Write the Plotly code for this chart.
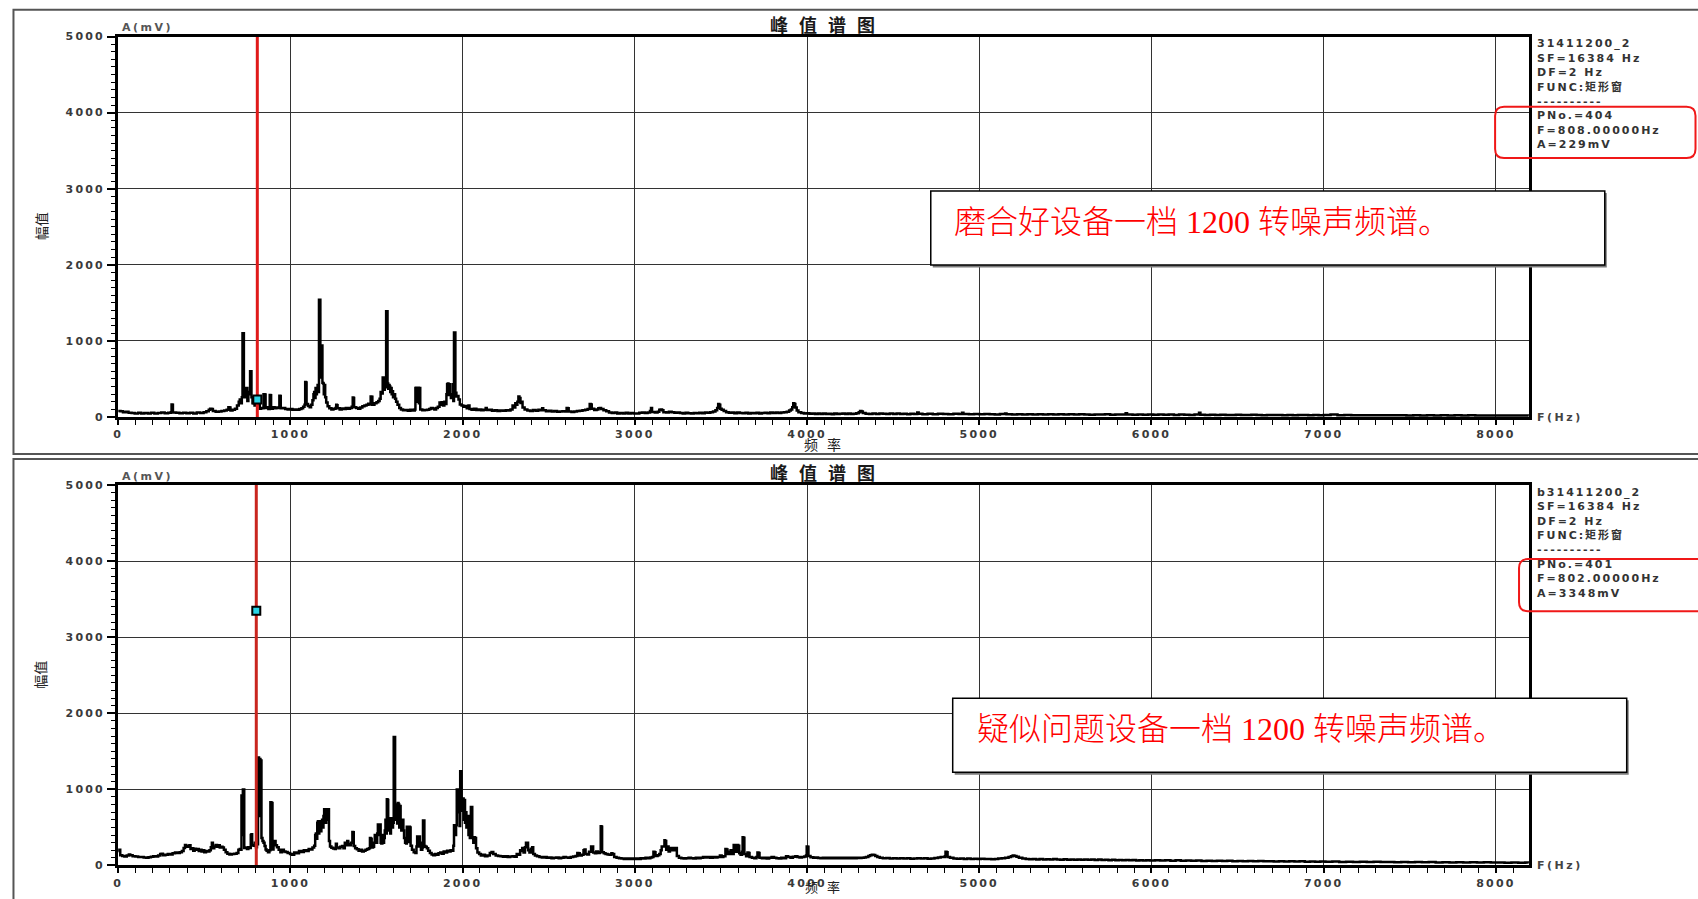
import plotly.graph_objects as go

# ---------------- data ----------------
x_ticks = [0, 1000, 2000, 3000, 4000, 5000, 6000, 7000, 8000]
y_ticks = [0, 1000, 2000, 3000, 4000, 5000]

# good device spectrum: (frequency Hz, amplitude mV)
good_spectrum = [
(0,80),(14,75),(28,62),(44,70),(60,55),(78,52),(96,48),(116,55),(134,45),(152,52),(172,46),(190,55),(210,48),(230,52),(250,58),(270,50),(290,55),(306,62),(310,165),(314,160),(318,60),(336,55),(356,50),(376,56),(396,50),(416,55),(436,48),(456,58),(476,54),(496,62),(512,75),(526,95),(534,110),(542,105),(550,80),(566,70),(584,72),(600,78),(616,85),(630,95),(640,130),(646,125),(652,85),(664,95),(678,110),(690,150),(700,200),(706,230),(712,180),(718,260),(722,1100),(726,1100),(730,320),(736,260),(742,380),(746,380),(750,210),(756,300),(762,330),(766,600),(770,600),(774,260),(780,180),(786,210),(792,150),(798,170),(804,200),(808,229),(814,165),(822,110),(830,120),(838,115),(844,300),(850,295),(856,120),(864,130),(872,105),(880,290),(884,285),(888,110),(898,130),(908,115),(918,125),(928,120),(936,280),(940,275),(944,115),(956,120),(970,105),(984,98),(998,104),(1012,95),(1026,100),(1040,96),(1052,105),(1064,115),(1074,135),(1082,160),(1086,460),(1090,455),(1094,170),(1102,145),(1112,130),(1120,160),(1128,220),(1134,300),(1138,330),(1142,250),(1146,380),(1150,300),(1154,360),(1158,420),(1162,330),(1166,1540),(1170,1540),(1174,520),(1178,940),(1182,940),(1186,450),(1190,440),(1194,300),(1198,420),(1202,260),(1208,190),(1216,140),(1226,115),(1238,100),(1250,110),(1262,118),(1266,160),(1270,155),(1274,115),(1286,100),(1298,112),(1310,105),(1322,118),(1334,110),(1346,120),(1356,135),(1362,255),(1366,250),(1370,130),(1382,120),(1394,110),(1406,125),(1418,140),(1430,150),(1442,160),(1452,175),(1458,165),(1466,270),(1470,265),(1476,160),(1488,180),(1500,195),(1510,210),(1518,240),(1524,330),(1530,310),(1536,520),(1540,520),(1544,360),(1548,480),(1552,390),(1556,1390),(1560,1390),(1564,440),(1568,370),(1572,420),(1576,400),(1580,330),(1584,380),(1588,300),(1592,340),(1596,260),(1602,300),(1608,240),(1614,200),(1622,160),(1632,120),(1642,100),(1654,88),(1668,92),(1682,82),(1696,95),(1710,86),(1722,100),(1726,380),(1730,385),(1734,200),(1738,375),(1742,385),(1746,180),(1750,380),(1754,100),(1766,88),(1780,92),(1794,96),(1806,104),(1816,120),(1826,112),(1836,100),(1846,118),(1856,135),(1866,190),(1872,160),(1878,195),(1886,150),(1894,200),(1900,170),(1906,300),(1910,430),(1914,440),(1918,290),(1922,430),(1926,300),(1932,250),(1938,300),(1942,430),(1946,210),(1950,1110),(1954,1110),(1958,320),(1964,270),(1970,275),(1976,230),(1984,165),(1994,150),(2004,135),(2014,145),(2024,115),(2034,150),(2040,105),(2052,95),(2066,110),(2080,92),(2094,100),(2108,88),(2122,96),(2134,120),(2140,92),(2154,95),(2170,82),(2186,88),(2202,80),(2218,86),(2234,82),(2250,90),(2264,85),(2278,100),(2290,150),(2298,125),(2306,180),(2312,160),(2318,200),(2324,270),(2330,250),(2336,185),(2342,200),(2348,125),(2360,100),(2376,86),(2392,80),(2408,92),(2424,84),(2440,95),(2456,88),(2462,115),(2468,88),(2484,76),(2500,82),(2516,72),(2532,78),(2548,68),(2564,72),(2580,76),(2596,74),(2604,120),(2610,115),(2616,72),(2632,66),(2648,72),(2664,78),(2680,82),(2696,90),(2712,95),(2726,105),(2738,170),(2744,165),(2750,110),(2764,92),(2778,100),(2788,115),(2796,118),(2804,105),(2818,90),(2834,75),(2850,60),(2866,52),(2882,58),(2898,46),(2914,52),(2930,48),(2946,56),(2962,46),(2978,52),(2994,48),(3010,46),(3026,56),(3042,60),(3058,52),(3074,60),(3088,80),(3094,120),(3100,65),(3116,58),(3132,70),(3142,95),(3150,100),(3158,90),(3166,62),(3182,58),(3198,70),(3214,62),(3230,56),(3246,60),(3262,52),(3278,48),(3294,56),(3310,50),(3326,46),(3342,54),(3358,50),(3374,56),(3390,50),(3406,60),(3422,55),(3438,62),(3454,72),(3468,90),(3478,120),(3484,170),(3490,160),(3496,110),(3504,95),(3516,78),(3530,62),(3546,56),(3562,60),(3578,50),(3594,58),(3610,54),(3626,50),(3642,56),(3658,48),(3674,54),(3690,50),(3706,56),(3722,46),(3738,52),(3754,55),(3770,50),(3786,58),(3802,54),(3818,60),(3834,52),(3850,58),(3866,64),(3882,70),(3896,85),(3906,100),(3914,130),(3920,180),(3926,170),(3932,125),(3940,85),(3950,62),(3966,52),(3982,46),(3998,50),(4014,42),(4030,46),(4046,40),(4062,45),(4078,40),(4094,48),(4110,40),(4126,44),(4142,38),(4158,45),(4174,40),(4190,44),(4206,48),(4222,40),(4238,45),(4254,40),(4270,44),(4286,50),(4300,62),(4308,78),(4316,72),(4324,52),(4340,44),(4360,40),(4380,46),(4400,40),(4420,48),(4440,42),(4460,40),(4480,46),(4500,40),(4520,48),(4540,40),(4560,44),(4580,38),(4600,42),(4620,40),(4640,58),(4648,42),(4670,38),(4700,42),(4730,38),(4760,44),(4790,40),(4820,38),(4850,44),(4880,40),(4900,55),(4908,40),(4940,36),(4970,40),(5000,36),(5030,40),(5060,38),(5090,34),(5120,40),(5150,48),(5158,36),(5190,34),(5220,38),(5250,34),(5280,36),(5310,32),(5340,36),(5370,34),(5400,38),(5430,32),(5460,36),(5490,34),(5520,38),(5550,32),(5580,36),(5610,34),(5640,30),(5670,34),(5700,32),(5730,36),(5760,30),(5790,34),(5820,32),(5850,50),(5858,32),(5890,30),(5920,34),(5950,30),(5980,32),(6010,30),(6040,34),(6070,30),(6100,32),(6130,28),(6160,32),(6190,30),(6220,28),(6250,32),(6276,55),(6284,30),(6310,28),(6340,30),(6370,27),(6400,30),(6430,28),(6460,26),(6490,30),(6520,28),(6550,26),(6580,29),(6610,27),(6640,25),(6670,28),(6700,26),(6730,28),(6760,25),(6790,27),(6820,25),(6850,28),(6880,26),(6910,24),(6940,27),(6970,25),(7000,26),(7040,32),(7080,24),(7120,26),(7160,23),(7200,25),(7240,23),(7280,25),(7320,22),(7360,24),(7400,22),(7440,24),(7480,21),(7520,23),(7560,21),(7600,23),(7640,21),(7680,22),(7720,20),(7760,22),(7800,20),(7840,22),(7880,20),(7920,21),(7960,19),(8000,21),(8040,19),(8080,20),(8120,19),(8160,20),(8190,19)]

# suspected problem device spectrum: (frequency Hz, amplitude mV)
bad_spectrum = [
(0,190),(6,205),(12,135),(24,125),(36,118),(50,130),(62,145),(70,135),(84,120),(100,118),(116,112),(132,110),(148,105),(162,100),(176,108),(190,115),(204,120),(218,118),(232,130),(244,150),(252,155),(260,135),(274,140),(288,150),(302,145),(316,160),(330,170),(344,165),(358,175),(370,190),(380,230),(388,270),(394,260),(400,245),(408,250),(414,265),(420,215),(428,225),(436,195),(444,220),(452,205),(460,215),(468,190),(476,205),(484,185),(492,200),(500,175),(510,190),(520,182),(530,200),(538,240),(544,300),(550,225),(558,250),(566,270),(574,245),(582,265),(590,235),(598,245),(606,235),(614,205),(624,175),(634,155),(646,145),(660,150),(674,155),(688,165),(698,205),(706,215),(712,205),(716,920),(720,920),(722,400),(724,1000),(728,1000),(732,230),(740,235),(748,215),(756,240),(764,230),(770,400),(774,410),(778,270),(786,260),(794,300),(800,240),(806,280),(812,1420),(816,1420),(818,700),(820,1400),(824,1400),(826,650),(828,1380),(832,360),(838,320),(844,300),(850,255),(856,210),(862,195),(870,175),(878,200),(884,830),(888,830),(890,400),(892,820),(896,210),(902,300),(908,320),(914,265),(922,240),(932,205),(942,175),(952,205),(962,185),(972,178),(984,165),(998,150),(1010,140),(1022,170),(1036,160),(1050,190),(1064,178),(1078,200),(1092,190),(1106,215),(1118,210),(1128,235),(1138,260),(1144,400),(1148,420),(1152,350),(1156,560),(1160,580),(1164,420),(1168,560),(1172,580),(1176,450),(1180,520),(1184,600),(1188,500),(1192,650),(1196,740),(1200,740),(1204,560),(1208,740),(1212,740),(1216,600),(1220,740),(1224,320),(1230,250),(1238,232),(1248,222),(1258,215),(1264,285),(1270,235),(1280,225),(1290,245),(1300,255),(1308,225),(1316,300),(1322,265),(1330,320),(1336,280),(1344,265),(1352,300),(1360,440),(1364,435),(1368,255),(1376,225),(1386,212),(1396,195),(1406,205),(1416,185),(1426,195),(1436,205),(1446,215),(1456,225),(1462,360),(1466,350),(1472,235),(1480,245),(1486,300),(1490,400),(1494,385),(1498,300),(1504,420),(1508,540),(1512,520),(1516,400),(1520,540),(1524,300),(1528,290),(1534,400),(1538,300),(1544,360),(1548,460),(1552,600),(1556,420),(1560,870),(1564,860),(1568,460),(1572,560),(1576,620),(1580,420),(1584,620),(1588,600),(1592,500),(1596,560),(1600,1690),(1604,1690),(1608,600),(1612,800),(1616,780),(1620,550),(1624,820),(1628,800),(1632,500),(1636,780),(1640,600),(1644,460),(1648,560),(1652,600),(1656,460),(1660,360),(1666,300),(1672,290),(1676,510),(1680,510),(1684,310),(1690,510),(1694,500),(1698,260),(1706,205),(1716,175),(1726,165),(1732,250),(1736,380),(1740,370),(1744,250),(1748,380),(1752,300),(1758,205),(1766,235),(1770,590),(1774,590),(1778,255),(1784,245),(1792,225),(1800,195),(1810,165),(1820,145),(1830,135),(1840,152),(1850,142),(1860,162),(1870,172),(1880,155),(1890,182),(1900,172),(1910,192),(1920,182),(1930,200),(1940,192),(1946,260),(1950,530),(1954,520),(1958,400),(1962,530),(1966,1000),(1970,1000),(1974,700),(1978,960),(1982,520),(1986,1240),(1990,1240),(1994,720),(1998,880),(2002,880),(2006,600),(2010,860),(2014,560),(2018,700),(2022,500),(2026,650),(2030,640),(2034,400),(2038,650),(2042,360),(2048,770),(2052,770),(2056,360),(2062,300),(2068,370),(2072,360),(2078,225),(2086,172),(2096,152),(2106,132),(2116,142),(2130,122),(2144,132),(2158,165),(2168,178),(2178,152),(2192,132),(2206,126),(2220,120),(2234,116),(2248,122),(2262,112),(2276,117),(2290,122),(2302,116),(2314,150),(2324,140),(2334,200),(2340,190),(2346,230),(2354,170),(2362,240),(2368,300),(2374,300),(2380,200),(2388,170),(2396,220),(2404,240),(2410,150),(2420,130),(2432,120),(2446,110),(2460,105),(2474,112),(2488,100),(2502,106),(2516,96),(2530,102),(2544,106),(2558,96),(2572,102),(2586,110),(2600,105),(2614,100),(2628,110),(2642,118),(2656,125),(2666,165),(2672,160),(2680,132),(2692,140),(2702,200),(2708,210),(2714,150),(2724,145),(2734,180),(2746,250),(2752,250),(2758,172),(2768,160),(2776,182),(2786,165),(2796,175),(2802,515),(2806,510),(2810,175),(2820,160),(2830,150),(2842,145),(2854,142),(2864,160),(2870,150),(2880,112),(2894,100),(2908,96),(2922,90),(2936,86),(2950,92),(2964,86),(2978,90),(2992,86),(3006,92),(3020,86),(3034,96),(3048,90),(3062,100),(3076,96),(3090,105),(3100,112),(3108,180),(3114,175),(3120,125),(3132,135),(3142,150),(3150,200),(3156,250),(3172,330),(3176,320),(3182,205),(3190,250),(3196,185),(3204,230),(3212,200),(3220,230),(3228,200),(3236,230),(3244,125),(3256,102),(3270,96),(3284,92),(3298,96),(3312,100),(3326,96),(3340,92),(3354,100),(3368,96),(3382,100),(3396,110),(3410,105),(3424,112),(3438,102),(3452,110),(3466,106),(3480,112),(3494,130),(3504,112),(3514,120),(3526,215),(3532,210),(3538,150),(3548,180),(3556,200),(3562,150),(3574,270),(3580,265),(3586,180),(3594,270),(3600,260),(3606,160),(3614,140),(3622,180),(3626,370),(3630,365),(3636,150),(3646,120),(3654,170),(3660,165),(3666,112),(3680,100),(3694,96),(3706,110),(3712,170),(3718,165),(3724,100),(3738,96),(3752,100),(3766,92),(3780,100),(3794,110),(3808,102),(3822,96),(3836,92),(3850,100),(3864,96),(3878,120),(3890,112),(3904,100),(3918,115),(3932,120),(3944,112),(3956,104),(3970,110),(3984,118),(3994,130),(3998,250),(4002,245),(4008,125),(4020,108),(4036,100),(4050,104),(4064,98),(4078,95),(4092,100),(4106,95),(4120,100),(4134,95),(4148,100),(4162,96),(4176,102),(4190,96),(4204,100),(4218,95),(4232,100),(4246,96),(4260,102),(4274,96),(4288,100),(4302,98),(4316,100),(4330,104),(4342,112),(4356,125),(4366,135),(4376,142),(4386,138),(4396,125),(4408,110),(4422,100),(4440,94),(4460,98),(4480,92),(4500,96),(4520,90),(4540,95),(4560,90),(4580,94),(4600,88),(4620,92),(4640,96),(4660,90),(4680,94),(4700,88),(4720,92),(4740,98),(4760,104),(4776,110),(4790,112),(4800,120),(4804,180),(4810,175),(4816,110),(4830,100),(4850,92),(4870,88),(4890,92),(4910,86),(4930,90),(4950,84),(4970,88),(4990,84),(5010,88),(5030,84),(5050,86),(5070,82),(5090,86),(5110,90),(5130,96),(5150,102),(5170,112),(5184,122),(5194,130),(5204,126),(5216,115),(5230,100),(5250,90),(5270,86),(5290,82),(5310,86),(5330,80),(5350,84),(5370,78),(5390,83),(5410,78),(5430,84),(5450,80),(5470,76),(5490,81),(5510,76),(5530,80),(5550,75),(5570,79),(5590,74),(5610,80),(5630,74),(5650,78),(5670,72),(5690,77),(5710,72),(5730,75),(5750,70),(5770,74),(5790,70),(5810,73),(5830,68),(5850,72),(5870,68),(5890,71),(5910,66),(5930,70),(5950,66),(5970,69),(5990,65),(6020,68),(6050,64),(6080,67),(6110,63),(6140,67),(6170,62),(6200,65),(6230,61),(6260,64),(6290,60),(6320,63),(6350,59),(6380,62),(6410,58),(6440,61),(6470,57),(6500,60),(6530,56),(6560,59),(6590,55),(6620,58),(6650,54),(6680,57),(6710,53),(6740,56),(6770,52),(6800,55),(6830,51),(6860,54),(6890,50),(6920,53),(6950,49),(6980,52),(7010,48),(7050,51),(7090,47),(7130,50),(7170,46),(7210,49),(7250,45),(7290,48),(7330,44),(7370,47),(7410,43),(7450,46),(7490,42),(7530,45),(7570,41),(7610,44),(7650,40),(7690,43),(7730,40),(7770,42),(7810,39),(7850,42),(7890,38),(7930,41),(7970,38),(8010,40),(8050,37),(8090,39),(8130,36),(8170,38),(8190,37)]

good_freq = [p[0] for p in good_spectrum]
good_amp = [p[1] for p in good_spectrum]
bad_freq = [p[0] for p in bad_spectrum]
bad_amp = [p[1] for p in bad_spectrum]

# cursor readouts
good_cursor = {"pno": 404, "freq": 808, "amp": 229}
bad_cursor = {"pno": 401, "freq": 802, "amp": 3348}

panel_title = "峰值谱图"
good_file = "31411200_2"
bad_file = "b31411200_2"
good_note = "磨合好设备一档 1200 转噪声频谱。"
bad_note = "疑似问题设备一档 1200 转噪声频谱。"

# ---------------- layout helpers ----------------
W, H = 1698, 899
# small calibration between intended pixel positions and the captured picture
X_SHIFT = 1.5
Y_SHIFT, Y_SCALE = 5.2, 0.985


def px(x):
    return (x - X_SHIFT) / W


def py(y):
    return 1 - ((y - Y_SHIFT) / Y_SCALE) / H


def sp(text, ls):
    return f'<span style="letter-spacing:{ls}px">{text}</span>'


SANS = "DejaVu Sans, Noto Sans CJK SC"
CJK = "Noto Sans CJK SC"
SERIF = "Liberation Serif, Noto Sans CJK SC"

X_DOM = [px(115), px(1530)]
PANELS = [
    dict(top=35.7, bottom=416.0, frame=(10, 9, 1712, 453), xlab=27, xlab_size=14),
    dict(top=484.0, bottom=864.2, frame=(10, 458, 1712, 915), xlab=21.5, xlab_size=13),
]

fig = go.Figure()

series = [
    (good_freq, good_amp, good_cursor, "#e01a1a"),
    (bad_freq, bad_amp, bad_cursor, "#c9261f"),
]
for i, (fx, fy, cur, rc) in enumerate(series):
    xa = "x" if i == 0 else "x2"
    ya = "y" if i == 0 else "y2"
    fig.add_trace(go.Scatter(x=fx, y=fy, mode="lines", xaxis=xa, yaxis=ya,
                             line=dict(color="black", width=2.5, shape="hv"),
                             hoverinfo="skip"))
    fig.add_trace(go.Scatter(x=[cur["freq"], cur["freq"]], y=[0, 5000], mode="lines",
                             xaxis=xa, yaxis=ya, line=dict(color=rc, width=3),
                             hoverinfo="skip"))
    fig.add_trace(go.Scatter(x=[cur["freq"]], y=[cur["amp"]], mode="markers",
                             xaxis=xa, yaxis=ya,
                             marker=dict(symbol="square", size=8, color="#2ad4e6",
                                         line=dict(color="black", width=2)),
                             hoverinfo="skip"))

tickfont = dict(family="DejaVu Sans", size=11, color="#3a3a3a", weight="bold")


def xcfg(anchor):
    return dict(domain=X_DOM, range=[0, 8192], anchor=anchor,
                tickmode="array", tickvals=x_ticks,
                ticktext=[sp(str(t), 2.2) for t in x_ticks],
                ticks="outside", ticklen=5, tickwidth=1.5, tickcolor="black",
                minor=dict(dtick=100, tick0=0, ticks="outside", ticklen=5,
                           tickwidth=1.2, tickcolor="black", showgrid=False),
                showgrid=True, gridcolor="#333", gridwidth=1.2,
                showline=True, linecolor="black", linewidth=3, mirror=True,
                zeroline=False, tickfont=tickfont, fixedrange=True)


def ycfg(anchor, dom):
    return dict(domain=dom, range=[0, 5000], anchor=anchor,
                tickmode="array", tickvals=y_ticks,
                ticktext=[sp(str(t), 2.2) for t in y_ticks],
                ticks="outside", ticklen=8, tickwidth=1.5, tickcolor="black",
                minor=dict(dtick=100, tick0=0, ticks="outside", ticklen=4,
                           tickwidth=1, tickcolor="black", showgrid=False),
                showgrid=True, gridcolor="#333", gridwidth=1.2,
                showline=True, linecolor="black", linewidth=3, mirror=True,
                zeroline=False, tickfont=tickfont, fixedrange=True)


shapes = []
annotations = []


def rounded_path(x0, y0, x1, y1, r):
    pts = [
        ("M", [(x0 + r, y0)]), ("L", [(x1 - r, y0)]), ("Q", [(x1, y0), (x1, y0 + r)]),
        ("L", [(x1, y1 - r)]), ("Q", [(x1, y1), (x1 - r, y1)]), ("L", [(x0 + r, y1)]),
        ("Q", [(x0, y1), (x0, y1 - r)]), ("L", [(x0, y0 + r)]), ("Q", [(x0, y0), (x0 + r, y0)]),
    ]
    out = []
    for cmd, ps in pts:
        out.append(cmd + " " + " ".join(f"{px(a):.6f},{py(b):.6f}" for a, b in ps))
    return " ".join(out) + " Z"


def add_text(text, x, y, size, color="#333", family=SANS, xanchor="left",
             yanchor="middle", angle=0, weight=None):
    f = dict(family=family, size=size, color=color)
    if weight is not None:
        f["weight"] = weight
    annotations.append(dict(text=text, x=px(x), y=py(y), xref="paper", yref="paper",
                            xanchor=xanchor, yanchor=yanchor, showarrow=False,
                            textangle=angle, font=f))


info = [
    (good_file, good_cursor, (1496, 106, 1697, 157, 9), (930, 190, 1606, 264), good_note, 951),
    (bad_file, bad_cursor, (1520, 558, 1712, 610, 9), (952, 697, 1628, 771), bad_note, 974),
]

for i, p in enumerate(PANELS):
    fx0, fy0, fx1, fy1 = p["frame"]
    shapes.append(dict(type="rect", xref="paper", yref="paper", x0=px(fx0), x1=px(fx1),
                       y0=py(fy1), y1=py(fy0), line=dict(color="#555", width=2),
                       fillcolor="rgba(0,0,0,0)", layer="below"))
    top, bot = p["top"], p["bottom"]
    fname, cur, rbox, nbox, note, notex = info[i]
    # titles and labels
    add_text(sp(panel_title, 11), 827, top - 13, 18, color="#1a1a1a", family=CJK,
             xanchor="center", weight="bold")
    add_text(sp("A(mV)", 2.5), 117, top - 9, 11, color="#555", weight="bold")
    add_text(sp("频率", 9), 826, bot + p["xlab"], p["xlab_size"], color="#222", family=CJK,
             xanchor="center")
    add_text("幅值", 37, (top + bot) / 2 - 1, 14, color="#222", family=CJK,
             xanchor="center", angle=-90)
    add_text(sp("F(Hz)", 2.5), 1536, bot, 11, color="#444", weight="bold")
    lines = [fname, "SF=16384 Hz", "DF=2 Hz", "FUNC:矩形窗", "----------",
             f"PNo.={cur['pno']}", f"F={cur['freq']:.5f}Hz", f"A={cur['amp']}mV"]
    for k, ln in enumerate(lines):
        add_text(sp(ln, 2.0), 1536, top + 7.2 + 14.4 * k, 11, color="#333", weight="bold")
    # red rounded highlight box
    shapes.append(dict(type="path", xref="paper", yref="paper",
                       path=rounded_path(*rbox), line=dict(color="#f01818", width=2),
                       fillcolor="rgba(0,0,0,0)", layer="above"))
    # note box with shadow
    nx0, ny0, nx1, ny1 = nbox
    shapes.append(dict(type="rect", xref="paper", yref="paper", x0=px(nx0 + 2), x1=px(nx1 + 2),
                       y0=py(ny1 + 2.5), y1=py(ny0 + 2), line=dict(width=0),
                       fillcolor="#7a7a7a", layer="above"))
    shapes.append(dict(type="rect", xref="paper", yref="paper", x0=px(nx0), x1=px(nx1),
                       y0=py(ny1), y1=py(ny0), line=dict(color="black", width=1.5),
                       fillcolor="white", layer="above"))
    add_text(note, notex, (ny0 + ny1) / 2 - 6, 32, color="#ff0000", family=SERIF,
             weight=300)

fig.update_layout(
    width=W, height=H, margin=dict(l=0, r=0, t=0, b=0),
    paper_bgcolor="white", plot_bgcolor="white", showlegend=False,
    xaxis=xcfg("y"), yaxis=ycfg("x", [py(PANELS[0]["bottom"]), py(PANELS[0]["top"])]),
    xaxis2=xcfg("y2"), yaxis2=ycfg("x2", [py(PANELS[1]["bottom"]), py(PANELS[1]["top"])]),
    shapes=shapes, annotations=annotations, hovermode=False,
)

# remove the default 8px page margin so the figure sits exactly in the window
fig.write_html("out.html", config={"displayModeBar": False},
               post_script="document.body.style.margin='0';document.body.style.overflow='hidden';")
